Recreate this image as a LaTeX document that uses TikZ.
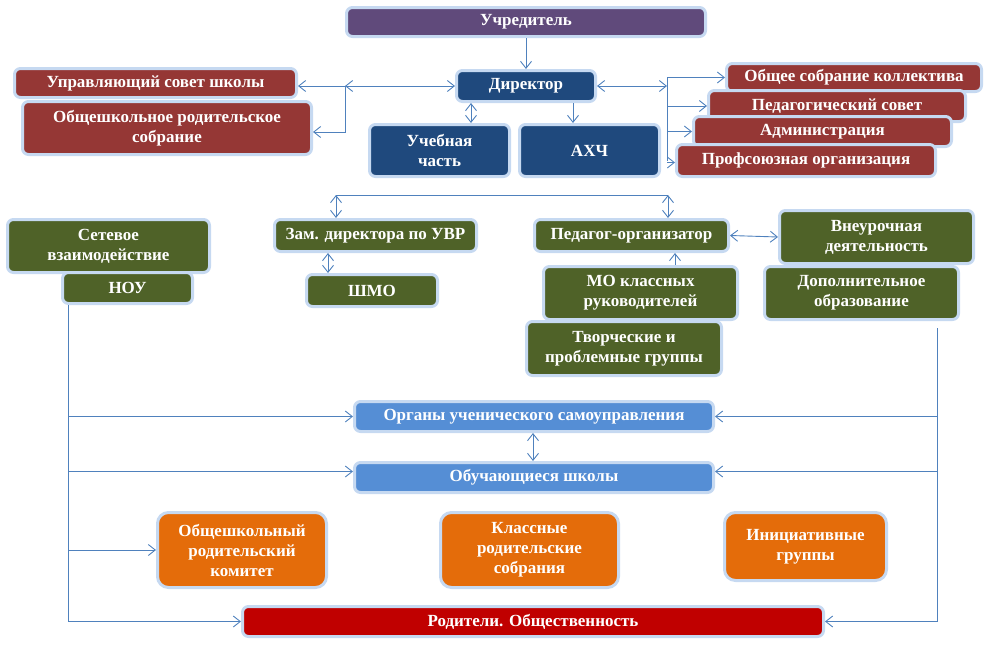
\documentclass[tikz,border=0pt]{standalone}
\usepackage{fontspec}
\setmainfont{Liberation Serif}
\usetikzlibrary{arrows.meta}
\definecolor{cPur}{HTML}{604A7B}
\definecolor{cNavy}{HTML}{1F497D}
\definecolor{cMar}{HTML}{953735}
\definecolor{cGrn}{HTML}{4F6228}
\definecolor{cBlu}{HTML}{558ED5}
\definecolor{cOra}{HTML}{E46C0A}
\definecolor{cRed}{HTML}{C00000}
\definecolor{cBrd}{HTML}{C6D9F1}
\definecolor{cLine}{HTML}{4F81BD}
\tikzset{
  bx/.style={draw=cBrd, line width=3pt, rounded corners=6pt, text=white,
    font=\fontsize{17}{20}\selectfont\bfseries, align=center, inner sep=0pt},
  bigbx/.style={bx, rounded corners=11pt},
  con/.style={draw=cLine, line width=0.9pt},
  >={Straight Barb[length=7pt,width=11pt,line width=0.9pt]},
}
\begin{document}
\begin{tikzpicture}[x=1pt,y=-1pt]
\useasboundingbox (0,0) rectangle (988,653);
% top
\node[bx,fill=cPur,minimum width=359,minimum height=29] (uch) at (526,22) {Учредитель};
\node[bx,fill=cNavy,minimum width=139,minimum height=31] (dir) at (526,86) {Директор};
\node[bx,fill=cNavy,minimum width=140,minimum height=52] (ucheb) at (439.5,150.5) {Учебная\\часть};
\node[bx,fill=cNavy,minimum width=140,minimum height=52] (ahch) at (589.5,150.5) {АХЧ};
% left top
\node[bx,fill=cMar,minimum width=282,minimum height=29] (upr) at (155.5,83) {Управляющий совет школы};
\node[bx,fill=cMar,minimum width=289,minimum height=53] (obsh) at (167,128) {Общешкольное родительское\\собрание};
% right stack
\node[bx,fill=cMar,minimum width=255,minimum height=28] (r1) at (854,77.5) {Общее собрание коллектива};
\node[bx,fill=cMar,minimum width=257,minimum height=31] (r2) at (837,106) {Педагогический совет};
\node[bx,fill=cMar,minimum width=258,minimum height=30] (r3) at (822.5,131.5) {Администрация};
\node[bx,fill=cMar,minimum width=259,minimum height=32] (r4) at (806,160.5) {Профсоюзная организация};
% green
\node[bx,fill=cGrn,minimum width=202,minimum height=53] (set) at (108.5,246) {Сетевое\\взаимодействие};
\node[bx,fill=cGrn,minimum width=130,minimum height=31] (nou) at (127.5,288) {НОУ};
\node[bx,fill=cGrn,minimum width=202,minimum height=32] (zam) at (375.5,235.5) {Зам. директора по УВР};
\node[bx,fill=cGrn,minimum width=131,minimum height=32] (shmo) at (372,290.5) {ШМО};
\node[bx,fill=cGrn,minimum width=194,minimum height=32] (ped) at (631.5,235.5) {Педагог-организатор};
\node[bx,fill=cGrn,minimum width=194,minimum height=53] (vne) at (876.5,237) {Внеурочная\\деятельность};
\node[bx,fill=cGrn,minimum width=194,minimum height=53] (dop) at (861.5,293) {Дополнительное\\образование};
\node[bx,fill=cGrn,minimum width=194,minimum height=53] (mo) at (640.5,293) {МО классных\\руководителей};
\node[bx,fill=cGrn,minimum width=195,minimum height=54] (tvor) at (624,348.5) {Творческие и\\проблемные группы};
% blue
\node[bx,fill=cBlu,minimum width=359,minimum height=30] (org) at (534,416.5) {Органы ученического самоуправления};
\node[bx,fill=cBlu,minimum width=359,minimum height=30] (obuch) at (534,477.5) {Обучающиеся школы};
% orange
\node[bigbx,fill=cOra,minimum width=169,minimum height=75] (kom) at (242,550) {Общешкольный\\родительский\\комитет};
\node[bigbx,fill=cOra,minimum width=178,minimum height=75] (kls) at (529.5,550) {Классные\\родительские\\собрания};
\node[bigbx,fill=cOra,minimum width=162,minimum height=68] (ini) at (805.5,546.5) {Инициативные\\группы};
\node[bx,fill=cRed,minimum width=581,minimum height=30] (rod) at (533,621.5) {Родители. Общественность};
% coordinates
\coordinate (jl) at (345,86);
\coordinate (jr) at (667,86);
\coordinate (xa) at (471,0);
\coordinate (xb) at (573,0);
\coordinate (b1) at (336,195);
\coordinate (b2) at (668,195);
\coordinate (xs) at (328,0);
\coordinate (xm) at (675,0);
\coordinate (L) at (68,0);
\coordinate (R) at (937,328);
\coordinate (xo) at (533,0);
% connectors top
\draw[con,->] (uch) -- (dir);
\draw[con,<->] (jl) -- (dir.west);
\draw[con,->] (jl) -- (jl -| upr.east);
\draw[con,->] (jl) |- ([yshift=-4pt]obsh.east);
\draw[con,<->] (dir.east) -- (jr);
\draw[con] (r1.west -| jr) -- (r4.west -| jr);
\draw[con,->] (r1.west -| jr) -- (r1.west);
\draw[con,->] (r2.west -| jr) -- (r2.west);
\draw[con,->] (r3.west -| jr) -- (r3.west);
\draw[con,->] ([yshift=-2pt]r4.west -| jr) -- ([yshift=-2pt]r4.west);
\draw[con,<->] (dir.south -| xa) -- (ucheb.north -| xa);
\draw[con,->] (dir.south -| xb) -- (ahch.north -| xb);
% bus
\draw[con] (b1) -- (b2);
\draw[con,<->] (b1) -- (zam.north -| b1);
\draw[con,<->] (b2) -- (ped.north -| b2);
\draw[con,<->] (zam.south -| xs) -- (shmo.north -| xs);
\draw[con,<->] (ped.east) -- (vne.west);
\draw[con,->] (mo.north -| xm) -- (ped.south -| xm);
% left bus
\draw[con] (nou.south -| L) -- (L |- rod.west);
\draw[con,->] (L |- org.west) -- (org.west);
\draw[con,->] (L |- obuch.west) ++(0,-6) -- ([yshift=6pt]obuch.west);
\draw[con,->] (L |- kom.west) -- (kom.west);
\draw[con,->] (L |- rod.west) -- (rod.west);
% right bus
\draw[con] (R) -- (R |- rod.east);
\draw[con,->] (R |- org.east) -- (org.east);
\draw[con,->] (R |- obuch.east) ++(0,-6) -- ([yshift=6pt]obuch.east);
\draw[con,->] (R |- rod.east) -- (rod.east);
\draw[con,<->] (org.south -| xo) -- (obuch.north -| xo);
\end{tikzpicture}
\end{document}
